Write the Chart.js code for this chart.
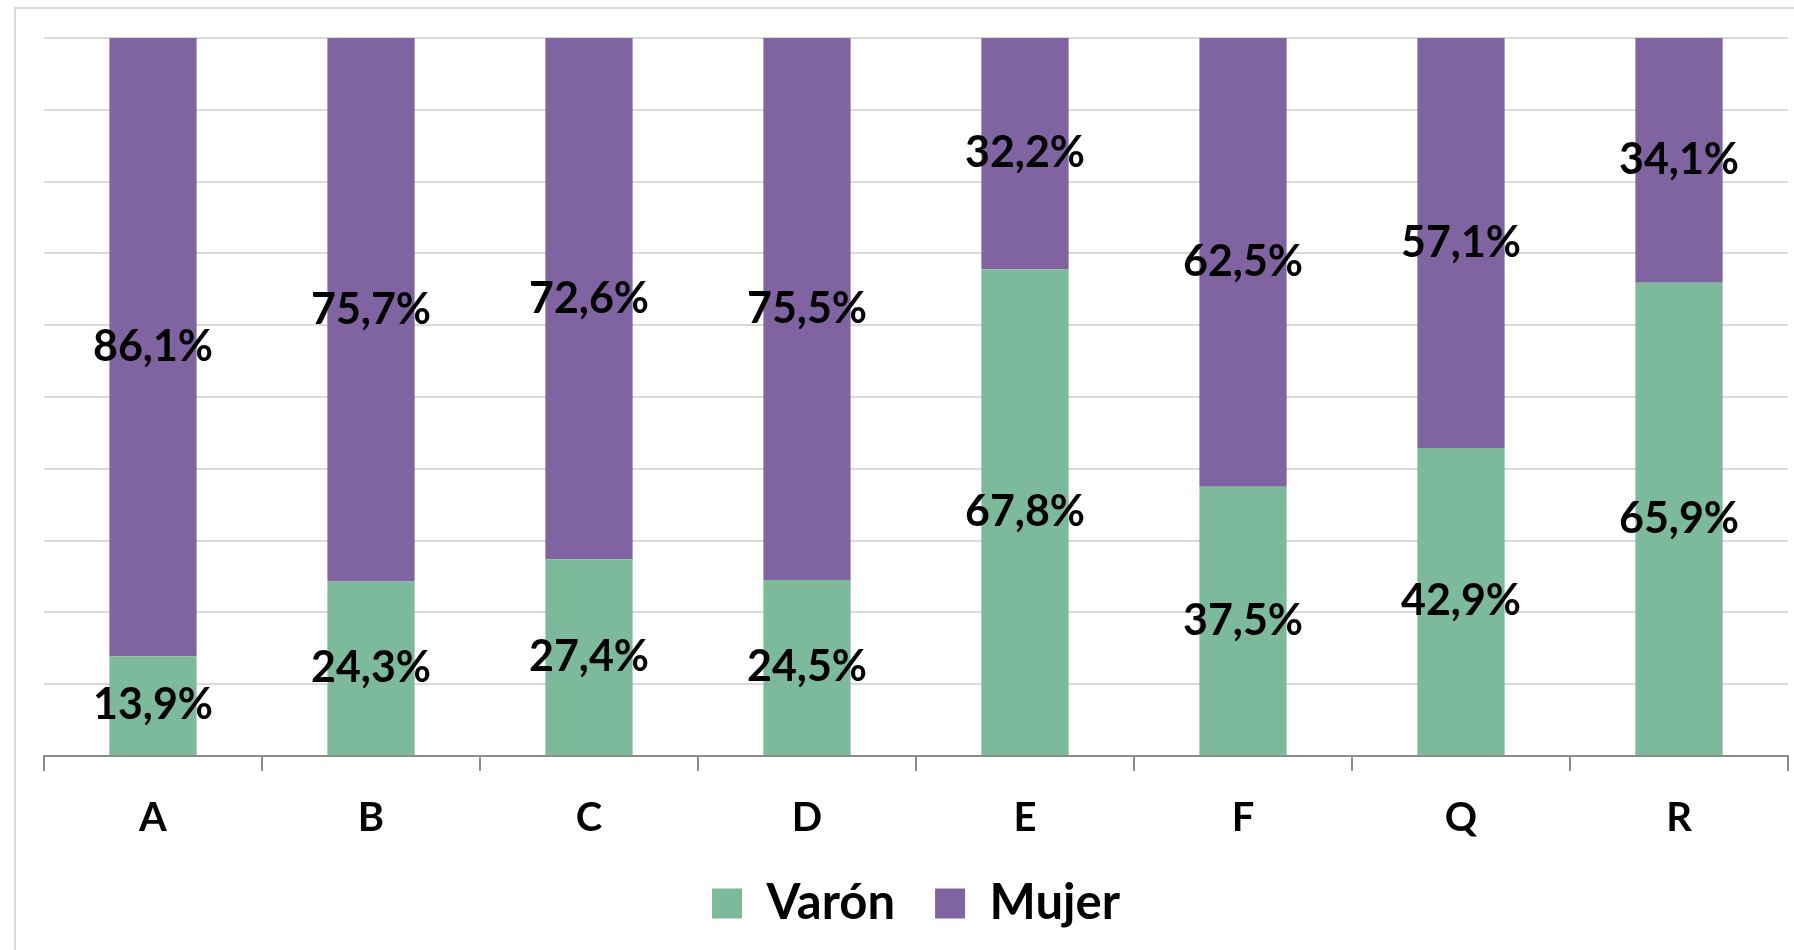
<!DOCTYPE html>
<html>
<head>
<meta charset="utf-8">
<script src="https://cdn.jsdelivr.net/npm/chart.js@4/dist/chart.umd.min.js"></script>
<style>
  html, body { margin: 0; padding: 0; background: #fff; overflow: hidden; }
  #frame {
    position: absolute; left: 14px; top: 7px;
    width: 2000px; height: 2000px;
    border: 2px solid #d9d9d9;
  }
  #wrap { position: absolute; left: 0; top: 0; width: 1794px; height: 950px; }
</style>
</head>
<body>
<div id="frame"></div>
<div id="wrap"><canvas id="chart"></canvas></div>
<script>
const categories = ['A', 'B', 'C', 'D', 'E', 'F', 'Q', 'R'];
const varonValues = [13.9, 24.3, 27.4, 24.5, 67.8, 37.5, 42.9, 65.9];
const mujerValues = [86.1, 75.7, 72.6, 75.5, 32.2, 62.5, 57.1, 34.1];

const fontFamily = 'Lato, "Open Sans", sans-serif';

// percentage labels centred in each stacked segment
const segmentLabels = {
  id: 'segmentLabels',
  afterDatasetsDraw(chart) {
    const ctx = chart.ctx;
    ctx.save();
    ctx.font = `bold 43px ${fontFamily}`;
    ctx.fillStyle = '#000';
    ctx.textAlign = 'center';
    ctx.textBaseline = 'middle';
    chart.data.datasets.forEach((ds, i) => {
      chart.getDatasetMeta(i).data.forEach((bar, j) => {
        const { x, y, base } = bar.getProps(['x', 'y', 'base'], true);
        const text = ds.data[j].toFixed(1).replace('.', ',') + '%';
        ctx.fillText(text, x, (y + base) / 2);
      });
    });
    ctx.restore();
  }
};

new Chart(document.getElementById('chart'), {
  type: 'bar',
  data: {
    labels: categories,
    datasets: [
      { label: 'Varón', data: varonValues, backgroundColor: '#7db99b' },
      { label: 'Mujer', data: mujerValues, backgroundColor: '#8064a2' }
    ]
  },
  options: {
    responsive: true,
    maintainAspectRatio: false,
    animation: false,
    categoryPercentage: 1,
    barPercentage: 0.4,
    layout: { padding: { left: 44, top: 38, right: 6, bottom: 12 } },
    plugins: {
      tooltip: { enabled: false },
      legend: {
        position: 'bottom',
        labels: {
          boxWidth: 30,
          boxHeight: 30,
          padding: 40,
          color: '#000',
          font: { family: fontFamily, size: 49, weight: 'bold' }
        }
      }
    },
    scales: {
      x: {
        stacked: true,
        grid: { drawOnChartArea: false, drawTicks: true, tickLength: 15, color: '#8c8c8c', lineWidth: 2 },
        border: { color: '#8c8c8c', width: 2 },
        ticks: { color: '#000', padding: 23, font: { family: fontFamily, size: 40, weight: 'bold' } },
        afterFit: (scale) => { scale.height = 83; }
      },
      y: {
        stacked: true,
        min: 0,
        max: 100,
        ticks: { display: false, stepSize: 10 },
        grid: { color: '#d9d9d9', lineWidth: 2, drawTicks: false },
        border: { display: false }
      }
    }
  },
  plugins: [segmentLabels]
});
</script>
</body>
</html>
